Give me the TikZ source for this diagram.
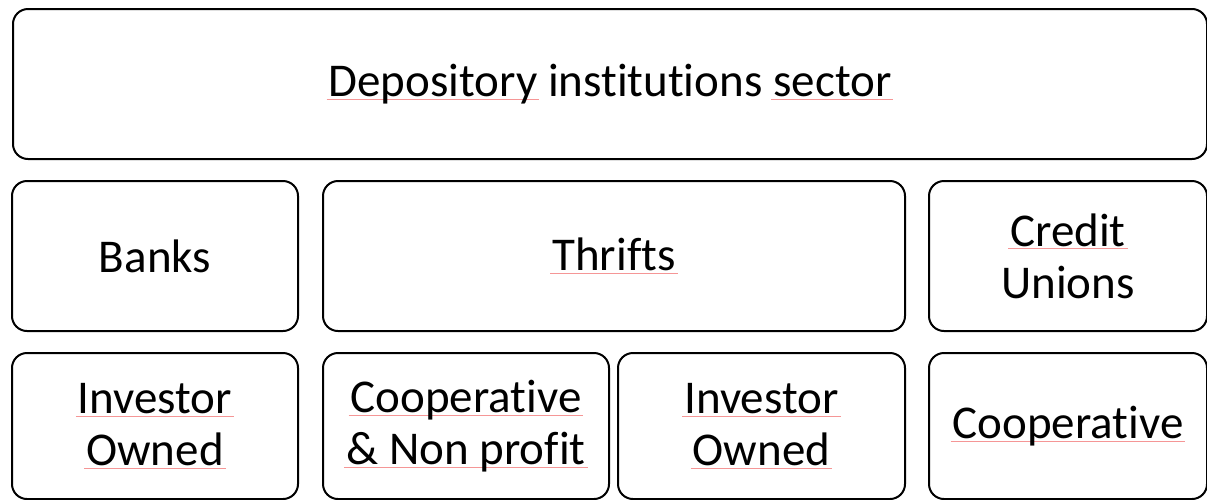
\documentclass[tikz,border=0pt]{standalone}
\usepackage{fontspec}
\setmainfont{Carlito}[Ligatures=CommonOff]
\definecolor{spellred}{RGB}{245,150,150}
\newcommand\sq[1]{\setbox0\hbox{#1}\rlap{\kern-2pt\textcolor{spellred}{\rule[-3pt]{\dimexpr\wd0+4pt\relax}{0.8pt}}}\box0}
\begin{document}
\begin{tikzpicture}[x=1pt,y=-1pt,
  box/.style={draw=black,line width=2pt,rounded corners=15pt,anchor=north west,inner sep=0pt,
    font=\fontsize{47}{52}\selectfont,align=center,text=black},
  row2/.style={box,minimum height=150pt},
  row3/.style={box,minimum height=146pt}]
\useasboundingbox (0,0) rectangle (1207,499);
\node[box,minimum width=1194pt,minimum height=150pt] (top) at (12,8) {\sq{Depository}\ institutions\ \sq{sector}};
\node[row2,minimum width=286pt] (banks) at (11,180) {Banks};
\node[row2,minimum width=582pt] (thrifts) at (322,180) {\sq{Thrifts}};
\node[row2,minimum width=278pt] (cu) at (928,180) {\sq{Credit}\\Unions};
\node[row3,minimum width=286pt] (io1) at (11,352) {\sq{Investor}\\\sq{Owned}};
\node[row3,minimum width=286pt] (cnp) at (322,352) {\sq{Cooperative}\\\sq{\& Non profit}};
\node[row3,minimum width=287pt] (io2) at (617,352) {\sq{Investor}\\\sq{Owned}};
\node[row3,minimum width=278pt] (coop) at (928,352) {\sq{Cooperative}};
\end{tikzpicture}
\end{document}
